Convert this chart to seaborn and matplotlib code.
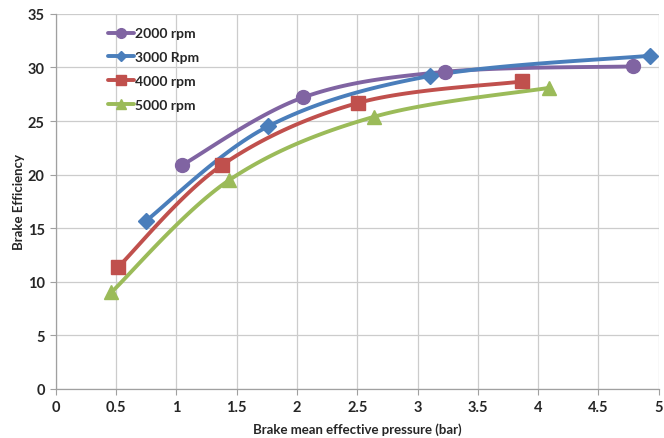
import numpy as np
import pandas as pd
import matplotlib
matplotlib.use("Agg")
import matplotlib.pyplot as plt
import seaborn as sns

series_names = ["2000 rpm", "3000 Rpm", "4000 rpm", "5000 rpm"]
bmep_2000 = [1.05, 2.05, 3.23, 4.79]
eff_2000 = [20.9, 27.2, 29.6, 30.1]
bmep_3000 = [0.75, 1.76, 3.10, 4.93]
eff_3000 = [15.7, 24.5, 29.2, 31.1]
bmep_4000 = [0.52, 1.38, 2.51, 3.87]
eff_4000 = [11.4, 20.9, 26.7, 28.7]
bmep_5000 = [0.46, 1.44, 2.64, 4.09]
eff_5000 = [9.0, 19.5, 25.4, 28.1]
x_ticks = [0, 0.5, 1, 1.5, 2, 2.5, 3, 3.5, 4, 4.5, 5]
y_ticks = [0, 5, 10, 15, 20, 25, 30, 35]

colors = ["#8064A2", "#4A7EBB", "#C0504D", "#9BBB59"]
markers = ["o", "D", "s", "^"]
msizes = [10, 8, 10, 10]

sns.set_theme(style="white")
plt.rcParams["font.family"] = ["Lato", "DejaVu Sans"]


def smooth(xs, ys, n=30):
    # Excel-style smoothed line (Catmull-Rom through the data points)
    p = np.column_stack([xs, ys]).astype(float)
    pts = np.vstack([p[0], p, p[-1]])
    out = []
    for i in range(1, len(pts) - 2):
        p0, p1, p2, p3 = pts[i - 1], pts[i], pts[i + 1], pts[i + 2]
        t = np.linspace(0, 1, n)[:, None]
        seg = 0.5 * ((2 * p1) + (-p0 + p2) * t + (2 * p0 - 5 * p1 + 4 * p2 - p3) * t ** 2
                     + (-p0 + 3 * p1 - 3 * p2 + p3) * t ** 3)
        out.append(seg if i == 1 else seg[1:])
    c = np.vstack(out)
    return c[:, 0], c[:, 1]


fig = plt.figure(figsize=(6.64, 4.39), dpi=100)
ax = fig.add_axes([0.084, 0.112, 0.908, 0.854])

data = [(bmep_2000, eff_2000), (bmep_3000, eff_3000), (bmep_4000, eff_4000), (bmep_5000, eff_5000)]
handles = []
for name, (xs, ys), col, mk, ms in zip(series_names, data, colors, markers, msizes):
    sx, sy = smooth(xs, ys)
    df_line = pd.DataFrame({"x": sx, "y": sy})
    sns.lineplot(data=df_line, x="x", y="y", ax=ax, color=col, linewidth=2.8, sort=False, estimator=None)
    df_pts = pd.DataFrame({"x": xs, "y": ys})
    ax.plot(df_pts["x"], df_pts["y"], linestyle="none", marker=mk, markersize=ms,
            markerfacecolor=col, markeredgecolor=col, zorder=5)
    h, = ax.plot([], [], color=col, linewidth=2.8, marker=mk, markersize=ms * 0.7,
                 markerfacecolor=col, markeredgecolor=col, label=name)
    handles.append(h)

ax.set_xlim(0, 5)
ax.set_ylim(0, 35)
ax.set_xticks(x_ticks)
ax.set_xticklabels([f"{v:g}" for v in x_ticks])
ax.set_yticks(y_ticks)
ax.grid(True, color="#CCCCCC", linewidth=0.9)
for s in ["top", "right"]:
    ax.spines[s].set_visible(False)
for s in ["left", "bottom"]:
    ax.spines[s].set_color("#A0A0A0")
    ax.spines[s].set_linewidth(0.9)
ax.tick_params(axis="both", which="major", length=4, width=0.8, color="#A0A0A0",
               labelsize=10.5, pad=4, direction="out", bottom=True, left=True)
for lbl in ax.get_xticklabels() + ax.get_yticklabels():
    lbl.set_fontweight("bold")
ax.set_xlabel("Brake mean effective pressure (bar)", fontsize=9.5, fontweight="bold", labelpad=6)
ax.set_ylabel("Brake Efficiency", fontsize=9.5, fontweight="bold", labelpad=2)

leg = ax.legend(handles=handles, loc="upper left", bbox_to_anchor=(0.07, 0.99), frameon=False,
                fontsize=10, handlelength=1.9, handletextpad=0.1, labelspacing=0.85, borderaxespad=0.3)
for t in leg.get_texts():
    t.set_fontweight("bold")

fig.savefig("out.png", dpi=100)
